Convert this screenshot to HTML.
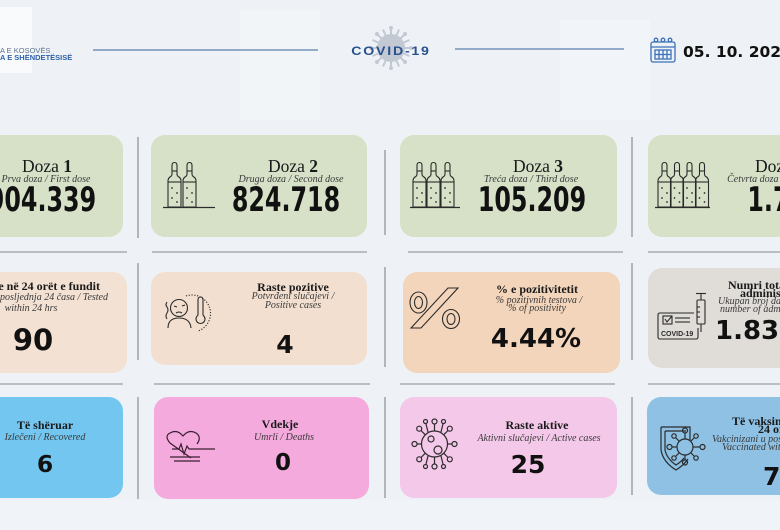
<!DOCTYPE html>
<html><head><meta charset="utf-8"><style>
html,body{margin:0;padding:0;background:#eef2f6;}
svg{display:block;}
.ser{font-family:"Liberation Serif",serif;}
.num{font-family:"DejaVu Sans","Liberation Sans",sans-serif;font-weight:bold;fill:#111;}
.t{font-family:"Liberation Serif",serif;font-weight:bold;font-size:12px;fill:#1a1a1a;}
.s{font-family:"Liberation Serif",serif;font-style:italic;font-size:10px;fill:#3a3a3a;}
</style></head><body>
<svg width="780" height="530" viewBox="0 0 780 530" xmlns="http://www.w3.org/2000/svg">
<defs>
<g id="amp">
<g fill="none" stroke="#2b2b2b" stroke-width="1.1">
<path d="M4,12 L4,3.5 Q4,0.5 6.5,0.5 Q9,0.5 9,3.5 L9,12 Q9,14 11,15 Q13,16.5 13,19 L13,45 L0,45 L0,19 Q0,16.5 2,15 Q4,14 4,12 Z"/>
<line x1="0" y1="20" x2="13" y2="20"/>
<line x1="4" y1="9" x2="9" y2="9"/>
</g>
<g fill="#2b2b2b"><circle cx="4" cy="26" r="0.9"/><circle cx="9" cy="31" r="0.9"/><circle cx="4" cy="36" r="0.9"/><circle cx="9" cy="40" r="0.9"/></g>
</g>
</defs>
<rect x="0" y="0" width="780" height="530" fill="#eef2f6"/>
<rect x="240" y="10" width="80" height="110" fill="#f3f6f9" opacity="0.6"/>
<rect x="560" y="20" width="90" height="100" fill="#f3f6f9" opacity="0.5"/>
<rect x="0" y="500" width="780" height="30" fill="#f0f3f7"/>

<!-- header -->
<rect x="-10" y="7" width="42" height="66" fill="#f8fafc"/>
<text x="0" y="53" font-family="Liberation Sans,sans-serif" font-size="7.5" fill="#5f7390">A E KOSOVËS</text>
<text x="0" y="60" font-family="Liberation Sans,sans-serif" font-size="7.5" font-weight="bold" fill="#2f62aa">A E SHËNDETËSISË</text>
<line x1="93" y1="50" x2="318" y2="50" stroke="#5a80aa" stroke-width="1.2"/>
<g fill="#c3c9d3">
<circle cx="391" cy="48" r="14"/>
<g stroke="#c3c9d3" stroke-width="2">
<line x1="391" y1="28" x2="391" y2="68"/><line x1="371" y1="48" x2="411" y2="48"/>
<line x1="377" y1="34" x2="405" y2="62"/><line x1="405" y1="34" x2="377" y2="62"/>
<line x1="383" y1="29.5" x2="399" y2="66.5"/><line x1="399" y1="29.5" x2="383" y2="66.5"/>
<line x1="372.5" y1="40" x2="409.5" y2="56"/><line x1="372.5" y1="56" x2="409.5" y2="40"/>
</g>
<circle cx="391" cy="28" r="2"/><circle cx="391" cy="68" r="2"/><circle cx="371" cy="48" r="2"/><circle cx="411" cy="48" r="2"/>
<circle cx="377" cy="34" r="2"/><circle cx="405" cy="62" r="2"/><circle cx="405" cy="34" r="2"/><circle cx="377" cy="62" r="2"/>
</g>
<text transform="translate(391,55) scale(1.18,1)" text-anchor="middle" font-family="Liberation Sans,sans-serif" font-weight="bold" font-size="12" letter-spacing="1.5" fill="#26508e">COVID-19</text>
<line x1="455" y1="49" x2="624" y2="49" stroke="#5a80aa" stroke-width="1.2"/>
<g fill="none" stroke="#3b72b8" stroke-width="1.3">
<rect x="651" y="42" width="24" height="20" rx="2"/>
<line x1="651" y1="47" x2="675" y2="47"/>
<circle cx="656" cy="40" r="1.8"/><circle cx="663" cy="40" r="1.8"/><circle cx="670" cy="40" r="1.8"/>
<rect x="655" y="50" width="16" height="9"/>
<line x1="659" y1="50" x2="659" y2="59"/><line x1="663" y1="50" x2="663" y2="59"/><line x1="667" y1="50" x2="667" y2="59"/>
<line x1="655" y1="54.5" x2="671" y2="54.5"/>
</g>
<text x="683" y="57" font-family="DejaVu Sans,sans-serif" font-weight="bold" font-size="15.5" fill="#111">05. 10. 2022</text>

<!-- row 1 cards -->
<g fill="#d6e1c8">
<rect x="-93" y="135" width="216" height="102" rx="14"/>
<rect x="151" y="135" width="216" height="102" rx="14"/>
<rect x="400" y="135" width="217" height="102" rx="14"/>
<rect x="648" y="135" width="217" height="102" rx="14"/>
</g>
<!-- row 2 cards -->
<rect x="-90" y="272" width="217" height="101" rx="14" fill="#f3e1d3"/>
<rect x="151" y="272" width="216" height="93" rx="14" fill="#f2dfcf"/>
<rect x="403" y="272" width="217" height="101" rx="14" fill="#f3d5bb"/>
<rect x="648" y="268" width="217" height="100" rx="14" fill="#e0ddd8"/>
<!-- row 3 cards -->
<rect x="-93" y="397" width="216" height="101" rx="14" fill="#72c6ef"/>
<rect x="154" y="397" width="215" height="102" rx="14" fill="#f5aadd"/>
<rect x="400" y="397" width="217" height="101" rx="14" fill="#f3c8e8"/>
<rect x="647" y="397" width="217" height="98" rx="14" fill="#8ec1e4"/>

<!-- dividers -->
<g stroke="#9ea3a8" stroke-width="1.5">
<line x1="138" y1="137" x2="138" y2="238"/><line x1="138" y1="263" x2="138" y2="360"/><line x1="138" y1="397" x2="138" y2="499"/>
<line x1="385" y1="150" x2="385" y2="235"/><line x1="385" y1="267" x2="385" y2="367"/><line x1="385" y1="397" x2="385" y2="498"/>
<line x1="632" y1="137" x2="632" y2="237"/><line x1="632" y1="263" x2="632" y2="360"/><line x1="632" y1="397" x2="632" y2="495"/>
</g>
<g stroke="#a9adb2" stroke-width="1.5">
<line x1="0" y1="252" x2="127" y2="252"/><line x1="152" y1="252" x2="367" y2="252"/><line x1="408" y1="252" x2="623" y2="252"/><line x1="648" y1="252" x2="780" y2="252"/>
<line x1="0" y1="384" x2="123" y2="384"/><line x1="154" y1="384" x2="370" y2="384"/><line x1="400" y1="384" x2="615" y2="384"/><line x1="648" y1="384" x2="780" y2="384"/>
</g>

<!-- ampoules -->
<use href="#amp" x="168" y="162"/><use href="#amp" x="183" y="162"/>
<line x1="163" y1="207.5" x2="215" y2="207.5" stroke="#2b2b2b" stroke-width="1.2"/>
<use href="#amp" x="413" y="162"/><use href="#amp" x="427" y="162"/><use href="#amp" x="441" y="162"/>
<line x1="410" y1="207.5" x2="460" y2="207.5" stroke="#2b2b2b" stroke-width="1.2"/>
<use href="#amp" x="658" y="162"/><use href="#amp" x="670.5" y="162"/><use href="#amp" x="683" y="162"/><use href="#amp" x="695.5" y="162"/>
<line x1="655" y1="207.5" x2="710" y2="207.5" stroke="#2b2b2b" stroke-width="1.2"/>

<!-- row1 text -->
<text class="ser" x="47" y="172" text-anchor="middle" font-size="17.5" fill="#1a1a1a">Doza <tspan font-weight="bold">1</tspan></text>
<text class="s" x="46" y="182" text-anchor="middle" font-size="10.5">Prva doza / First dose</text>
<text class="num" transform="translate(42,211) scale(0.7,1)" text-anchor="middle" font-size="34">904.339</text>

<text class="ser" x="293" y="172" text-anchor="middle" font-size="17.5" fill="#1a1a1a">Doza <tspan font-weight="bold">2</tspan></text>
<text class="s" x="291" y="182" text-anchor="middle" font-size="10.5">Druga doza / Second dose</text>
<text class="num" transform="translate(286,211) scale(0.7,1)" text-anchor="middle" font-size="34">824.718</text>

<text class="ser" x="538" y="172" text-anchor="middle" font-size="17.5" fill="#1a1a1a">Doza <tspan font-weight="bold">3</tspan></text>
<text class="s" x="531" y="182" text-anchor="middle" font-size="10.5">Treća doza / Third dose</text>
<text class="num" transform="translate(532,211) scale(0.7,1)" text-anchor="middle" font-size="34">105.209</text>

<text class="ser" x="780" y="172" text-anchor="middle" font-size="17.5" fill="#1a1a1a">Doza <tspan font-weight="bold">4</tspan></text>
<text class="s" x="781" y="182" text-anchor="middle" font-size="10.5">Četvrta doza / Fourth dose</text>
<text class="num" transform="translate(785,211) scale(0.7,1)" text-anchor="middle" font-size="34">1.729</text>

<!-- row2 text -->
<text class="t" x="100" y="290" text-anchor="end" font-size="11.5">Testime në 24 orët e fundit</text>
<text class="s" x="108" y="300" text-anchor="end">Testirani u posljednja 24 časa / Tested</text>
<text class="s" x="31" y="311" text-anchor="middle">within 24 hrs</text>
<text class="num" x="33" y="350" text-anchor="middle" font-size="29">90</text>

<text class="t" x="293" y="291" text-anchor="middle">Raste pozitive</text>
<text class="s" x="293" y="299" text-anchor="middle">Potvrđeni slučajevi /</text>
<text class="s" x="293" y="308" text-anchor="middle">Positive cases</text>
<text class="num" x="285" y="353" text-anchor="middle" font-size="25">4</text>

<text class="t" x="537" y="293" text-anchor="middle">% e pozitivitetit</text>
<text class="s" x="539" y="303" text-anchor="middle">% pozitivnih testova /</text>
<text class="s" x="537" y="311" text-anchor="middle">% of positivity</text>
<text class="num" x="536" y="347" text-anchor="middle" font-size="26">4.44%</text>

<text class="t" x="728" y="289">Numri totali i dozave</text>
<text class="t" x="740" y="297">administruara</text>
<text class="s" x="718" y="304">Ukupan broj datih doza /</text>
<text class="s" x="720" y="312">number of administered doses</text>
<text class="num" x="715" y="339" font-size="26">1.836.256</text>

<!-- row3 text -->
<text class="t" x="45" y="429" text-anchor="middle">Të shëruar</text>
<text class="s" x="45" y="440" text-anchor="middle">Izlečeni / Recovered</text>
<text class="num" x="45" y="472" text-anchor="middle" font-size="23.5">6</text>

<text class="t" x="280" y="428" text-anchor="middle" font-size="13">Vdekje</text>
<text class="s" x="284" y="440" text-anchor="middle">Umrli / Deaths</text>
<text class="num" x="283" y="470" text-anchor="middle" font-size="23">0</text>

<text class="t" x="537" y="429" text-anchor="middle">Raste aktive</text>
<text class="s" x="539" y="441" text-anchor="middle">Aktivni slučajevi / Active cases</text>
<text class="num" x="528" y="473" text-anchor="middle" font-size="25">25</text>

<text class="t" x="732" y="425">Të vaksinuar në</text>
<text class="t" x="758" y="433">24 orët e fundit</text>
<text class="s" x="712" y="442">Vakcinizani u posljednja 24 časa /</text>
<text class="s" x="722" y="450">Vaccinated within 24 hrs</text>
<text class="num" x="763" y="485" font-size="25">7</text>

<!-- icons -->
<g fill="none" stroke="#2b2b2b" stroke-width="1.1">
<circle cx="179" cy="308" r="8.5"/>
<path d="M168,328 Q168,318 179,318 Q190,318 191,328"/>
<path d="M174,306 l3,1 M182,306 l3,-1 M176,313 q3,-2 6,0"/>
<path d="M167,302 q-2,3 0,5 q2,3 0,6 q-2,3 0,6"/>
<path d="M198,300 q0,-3 2.5,-3 q2.5,0 2.5,3 l0,15 q2,2 2,4 a4.5,4.5 0 1 1 -9,0 q0,-2 2,-4 z"/>
<path d="M186,296 A17,17 0 1 1 198,331" stroke-dasharray="1.2,1.6"/>
<ellipse cx="418.5" cy="302.5" rx="8.5" ry="10.5"/>
<ellipse cx="418.5" cy="302.5" rx="4" ry="6"/>
<ellipse cx="451" cy="319" rx="8.5" ry="9.5"/>
<ellipse cx="451" cy="319" rx="4" ry="5.5"/>
<path d="M411,328 L448,288 L458,288 L421,328 Z"/>
<path d="M694,313 L660,313 Q658,313 658,315 L658,337 Q658,339 660,339 L696,339 Q698,339 698,337 L698,328"/>
<rect x="663" y="316" width="9" height="8"/>
<path d="M665,319 l2,3 l5,-6"/>
<line x1="675" y1="318" x2="690" y2="318"/><line x1="675" y1="322" x2="690" y2="322"/>
<rect x="697" y="300" width="8" height="24" rx="1"/>
<line x1="701" y1="300" x2="701" y2="294"/><line x1="696" y1="293.5" x2="706" y2="293.5"/>
<line x1="701" y1="324" x2="701" y2="332"/>
<line x1="697" y1="307" x2="700" y2="307"/><line x1="697" y1="312" x2="700" y2="312"/><line x1="697" y1="317" x2="700" y2="317"/>
</g>
<text x="661" y="336" font-family="Liberation Sans,sans-serif" font-weight="bold" font-size="7" fill="#2b2b2b">COVID-19</text>

<g fill="none" stroke="#3a2030" stroke-width="1.2">
<path d="M191,458 L170,443 Q164,436 170,433 Q177,429 183,436 Q189,429 196,433 Q202,437 197,444"/>
<path d="M172,449 L179,449 L181,444 L184,454 L187,446 L189,449 L215,449"/>
<line x1="170" y1="457" x2="200" y2="457"/><line x1="174" y1="461" x2="200" y2="461"/>
</g>

<g fill="none" stroke="#2b2b2b" stroke-width="1.2">
<circle cx="434.5" cy="444" r="13"/>
<circle cx="431" cy="439" r="3"/><circle cx="438" cy="450" r="4"/>
<line x1="434.5" y1="431" x2="434.5" y2="424"/><circle cx="434.5" cy="421.5" r="2.5"/>
<line x1="434.5" y1="457" x2="434.5" y2="464"/><circle cx="434.5" cy="466.5" r="2.5"/>
<line x1="421.5" y1="444" x2="417" y2="444"/><circle cx="414.5" cy="444" r="2.5"/>
<line x1="447.5" y1="444" x2="452" y2="444"/><circle cx="454.5" cy="444" r="2.5"/>
<line x1="425.3" y1="434.8" x2="421" y2="430.5"/><circle cx="419.2" cy="428.7" r="2.5"/>
<line x1="443.7" y1="434.8" x2="448" y2="430.5"/><circle cx="449.8" cy="428.7" r="2.5"/>
<line x1="425.3" y1="453.2" x2="421" y2="457.5"/><circle cx="419.2" cy="459.3" r="2.5"/>
<line x1="443.7" y1="453.2" x2="448" y2="457.5"/><circle cx="449.8" cy="459.3" r="2.5"/>
<line x1="428" y1="432" x2="426" y2="424"/><circle cx="425.5" cy="421.5" r="2"/>
<line x1="441" y1="432" x2="443" y2="424"/><circle cx="443.5" cy="421.5" r="2"/>
<line x1="428" y1="456" x2="426" y2="464"/><circle cx="425.5" cy="466.5" r="2"/>
<line x1="441" y1="456" x2="443" y2="464"/><circle cx="443.5" cy="466.5" r="2"/>
<path d="M661,427 L690,427 L690,440 M661,427 L661,450 Q663,462 676,470 Q684,465 688,459"/>
<path d="M665,431 L686,431 M665,431 L665,450 Q667,459 676,465 Q681,462 684,458"/>
<circle cx="685" cy="447" r="8"/>
<line x1="693" y1="447" x2="700" y2="447"/><circle cx="702.5" cy="447" r="2.5"/>
<line x1="685" y1="439" x2="685" y2="433"/><circle cx="685" cy="430.5" r="2.5"/>
<line x1="677" y1="447" x2="672" y2="447"/><circle cx="669.5" cy="447" r="2.5"/>
<line x1="685" y1="455" x2="685" y2="460"/><circle cx="685" cy="462.5" r="2.5"/>
<line x1="690.5" y1="441.5" x2="694" y2="438"/><circle cx="696" cy="436" r="2.2"/>
<line x1="679.5" y1="441.5" x2="676" y2="438"/><circle cx="674" cy="436" r="2.2"/>
<line x1="690.5" y1="452.5" x2="694" y2="456"/><circle cx="696" cy="458" r="2.2"/>
<line x1="679.5" y1="452.5" x2="676" y2="456"/><circle cx="674" cy="458" r="2.2"/>
</g>
</svg>
</body></html>
